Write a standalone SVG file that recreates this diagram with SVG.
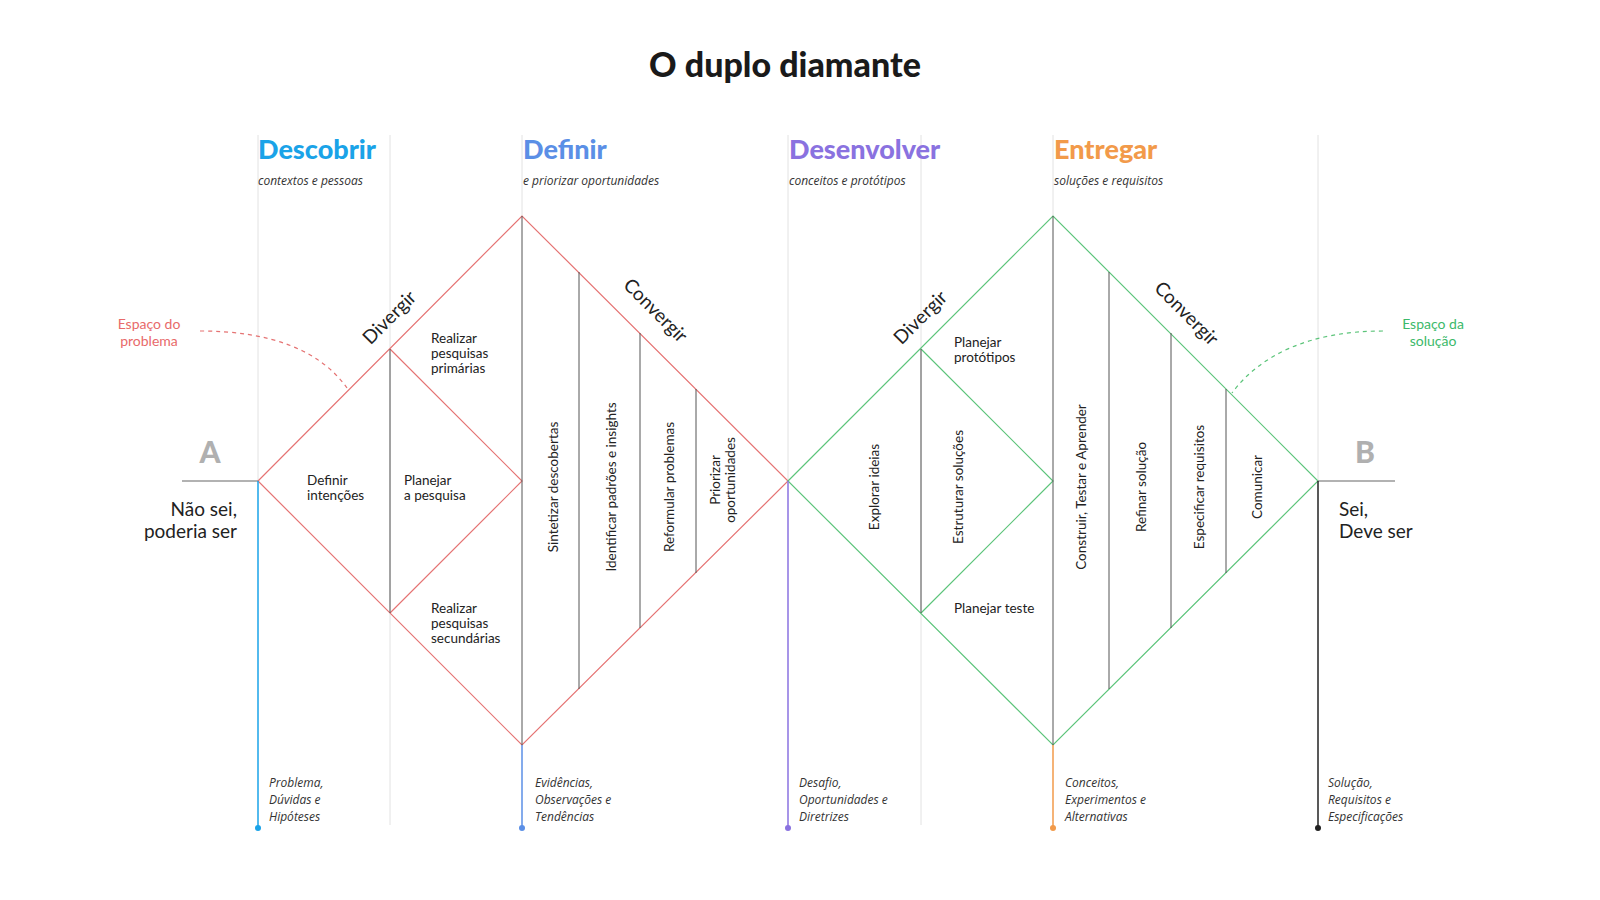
<svg xmlns="http://www.w3.org/2000/svg" width="1600" height="900" viewBox="0 0 1600 900">
<style>
.g{stroke:#e2e2e2;stroke-width:1;fill:none}
.r{stroke:#e57373;stroke-width:1.2;fill:none}
.gr{stroke:#5cc47a;stroke-width:1.2;fill:none}
.v{stroke:#555;stroke-width:1;fill:none}
.h{font-family:Lato,"Liberation Sans",sans-serif;font-weight:900;font-size:27px}
.s{font-family:"Open Sans","Liberation Sans",sans-serif;font-style:italic;font-size:12px;fill:#333}
.t{font-family:Lato,"Liberation Sans",sans-serif;font-size:13.5px;fill:#222}
.d{font-family:Lato,"Liberation Sans",sans-serif;font-size:19px;fill:#222}
.big{font-family:Lato,"Liberation Sans",sans-serif;font-size:19px;fill:#222}
.l{font-family:Lato,"Liberation Sans",sans-serif;font-weight:900;font-size:30px;fill:#b0b0b0}
</style>
<rect width="1600" height="900" fill="#fff"/>
<text x="785" y="77" text-anchor="middle" font-family="Lato,'Liberation Sans',sans-serif" font-weight="900" font-size="34" fill="#1a1a1a">O duplo diamante</text>
<g id="grid">
<line class="g" x1="258" y1="135" x2="258" y2="481"/>
<line class="g" x1="390" y1="135" x2="390" y2="825"/>
<line class="g" x1="522" y1="135" x2="522" y2="216"/>
<line class="g" x1="788" y1="135" x2="788" y2="481"/>
<line class="g" x1="921" y1="135" x2="921" y2="825"/>
<line class="g" x1="1053" y1="135" x2="1053" y2="216"/>
<line class="g" x1="1318" y1="135" x2="1318" y2="481"/>
</g>
<g id="headers">
<text class="h" x="258" y="159" fill="#1aa3e8">Descobrir</text>
<text class="s" x="258" y="185">contextos e pessoas</text>
<text class="h" x="523" y="159" fill="#5b8fe6">Definir</text>
<text class="s" x="523" y="185">e priorizar oportunidades</text>
<text class="h" x="789" y="159" fill="#8a72e0">Desenvolver</text>
<text class="s" x="789" y="185">conceitos e protótipos</text>
<text class="h" x="1054" y="159" fill="#f29a4a">Entregar</text>
<text class="s" x="1054" y="185">soluções e requisitos</text>
</g>
<g id="diamond1">
<polygon class="r" points="258,481 522,216 788,481 522,745"/>
<polyline class="r" points="390,349 522,481 390,613"/>
<line class="v" x1="390" y1="349" x2="390" y2="613"/>
<line class="v" x1="522" y1="216" x2="522" y2="745"/>
<line class="v" x1="579" y1="272" x2="579" y2="689"/>
<line class="v" x1="640" y1="333" x2="640" y2="628"/>
<line class="v" x1="696" y1="389" x2="696" y2="573"/>
<text class="d" transform="translate(394,322) rotate(-45)" text-anchor="middle">Divergir</text>
<text class="d" transform="translate(651,315) rotate(45)" text-anchor="middle">Convergir</text>
<text class="t" x="307" y="485">Definir</text><text class="t" x="307" y="500">intenções</text>
<text class="t" x="404" y="485">Planejar</text><text class="t" x="404" y="500">a pesquisa</text>
<text class="t" x="431" y="343">Realizar</text><text class="t" x="431" y="358">pesquisas</text><text class="t" x="431" y="373">primárias</text>
<text class="t" x="431" y="613">Realizar</text><text class="t" x="431" y="628">pesquisas</text><text class="t" x="431" y="643">secundárias</text>
<text class="t" transform="translate(558,487) rotate(-90)" text-anchor="middle">Sintetizar descobertas</text>
<text class="t" transform="translate(616,487) rotate(-90)" text-anchor="middle">Identificar padrões e insights</text>
<text class="t" transform="translate(674,487) rotate(-90)" text-anchor="middle">Reformular problemas</text>
<text class="t" transform="translate(720,480) rotate(-90)" text-anchor="middle">Priorizar</text>
<text class="t" transform="translate(735,480) rotate(-90)" text-anchor="middle">oportunidades</text>
</g>
<g id="diamond2">
<polygon class="gr" points="788,481 1053,216 1318,481 1053,745"/>
<polyline class="gr" points="921,349 1053,481 921,613"/>
<line class="v" x1="921" y1="349" x2="921" y2="613"/>
<line class="v" x1="1053" y1="216" x2="1053" y2="745"/>
<line class="v" x1="1109" y1="272" x2="1109" y2="689"/>
<line class="v" x1="1171" y1="333" x2="1171" y2="628"/>
<line class="v" x1="1226" y1="389" x2="1226" y2="573"/>
<text class="d" transform="translate(925,322) rotate(-45)" text-anchor="middle">Divergir</text>
<text class="d" transform="translate(1182,318) rotate(45)" text-anchor="middle">Convergir</text>
<text class="t" x="954" y="347">Planejar</text><text class="t" x="954" y="362">protótipos</text>
<text class="t" x="954" y="613">Planejar teste</text>
<text class="t" transform="translate(879,487) rotate(-90)" text-anchor="middle">Explorar ideias</text>
<text class="t" transform="translate(963,487) rotate(-90)" text-anchor="middle">Estruturar soluções</text>
<text class="t" transform="translate(1086,487) rotate(-90)" text-anchor="middle">Construir, Testar e Aprender</text>
<text class="t" transform="translate(1146,487) rotate(-90)" text-anchor="middle">Refinar solução</text>
<text class="t" transform="translate(1204,487) rotate(-90)" text-anchor="middle">Especificar requisitos</text>
<text class="t" transform="translate(1262,487) rotate(-90)" text-anchor="middle">Comunicar</text>
</g>
<g id="ends">
<line x1="182" y1="481" x2="258" y2="481" stroke="#999" stroke-width="1.5"/>
<line x1="1318" y1="481" x2="1395" y2="481" stroke="#999" stroke-width="1.5"/>
<text class="l" x="210" y="463" text-anchor="middle">A</text>
<text class="l" x="1365" y="463" text-anchor="middle">B</text>
<text class="big" x="237" y="516" text-anchor="end">Não sei,</text>
<text class="big" x="237" y="538" text-anchor="end">poderia ser</text>
<text class="big" x="1339" y="516">Sei,</text>
<text class="big" x="1339" y="538">Deve ser</text>
<text x="149" y="329" text-anchor="middle" font-family="Lato,'Liberation Sans',sans-serif" font-size="14" fill="#e86a6a">Espaço do</text>
<text x="149" y="346" text-anchor="middle" font-family="Lato,'Liberation Sans',sans-serif" font-size="14" fill="#e86a6a">problema</text>
<text x="1433" y="329" text-anchor="middle" font-family="Lato,'Liberation Sans',sans-serif" font-size="14" fill="#3cb96a">Espaço da</text>
<text x="1433" y="346" text-anchor="middle" font-family="Lato,'Liberation Sans',sans-serif" font-size="14" fill="#3cb96a">solução</text>
</g>
<g id="connectors">
<path d="M200,331 C270,331 320,350 347,388" fill="none" stroke="#e57373" stroke-width="1.2" stroke-dasharray="4,4"/>
<path d="M1383,331 C1310,331 1260,355 1232,393" fill="none" stroke="#5cc47a" stroke-width="1.2" stroke-dasharray="4,4"/>
<line x1="258" y1="481" x2="258" y2="828" stroke="#1aa3e8" stroke-width="1.5"/><circle cx="258" cy="828" r="3" fill="#1aa3e8"/>
<line x1="522" y1="745" x2="522" y2="828" stroke="#5b8fe6" stroke-width="1.5"/><circle cx="522" cy="828" r="3" fill="#5b8fe6"/>
<line x1="788" y1="481" x2="788" y2="828" stroke="#8a72e0" stroke-width="1.5"/><circle cx="788" cy="828" r="3" fill="#8a72e0"/>
<line x1="1053" y1="745" x2="1053" y2="828" stroke="#f29a4a" stroke-width="1.5"/><circle cx="1053" cy="828" r="3" fill="#f29a4a"/>
<line x1="1318" y1="481" x2="1318" y2="828" stroke="#222" stroke-width="1.5"/><circle cx="1318" cy="828" r="3" fill="#222"/>
</g>
<g id="notes">
<text class="s" x="269" y="787">Problema,</text><text class="s" x="269" y="804">Dúvidas e</text><text class="s" x="269" y="821">Hipóteses</text>
<text class="s" x="535" y="787">Evidências,</text><text class="s" x="535" y="804">Observações e</text><text class="s" x="535" y="821">Tendências</text>
<text class="s" x="799" y="787">Desafio,</text><text class="s" x="799" y="804">Oportunidades e</text><text class="s" x="799" y="821">Diretrizes</text>
<text class="s" x="1065" y="787">Conceitos,</text><text class="s" x="1065" y="804">Experimentos e</text><text class="s" x="1065" y="821">Alternativas</text>
<text class="s" x="1328" y="787">Solução,</text><text class="s" x="1328" y="804">Requisitos e</text><text class="s" x="1328" y="821">Especificações</text>
</g>
</svg>
